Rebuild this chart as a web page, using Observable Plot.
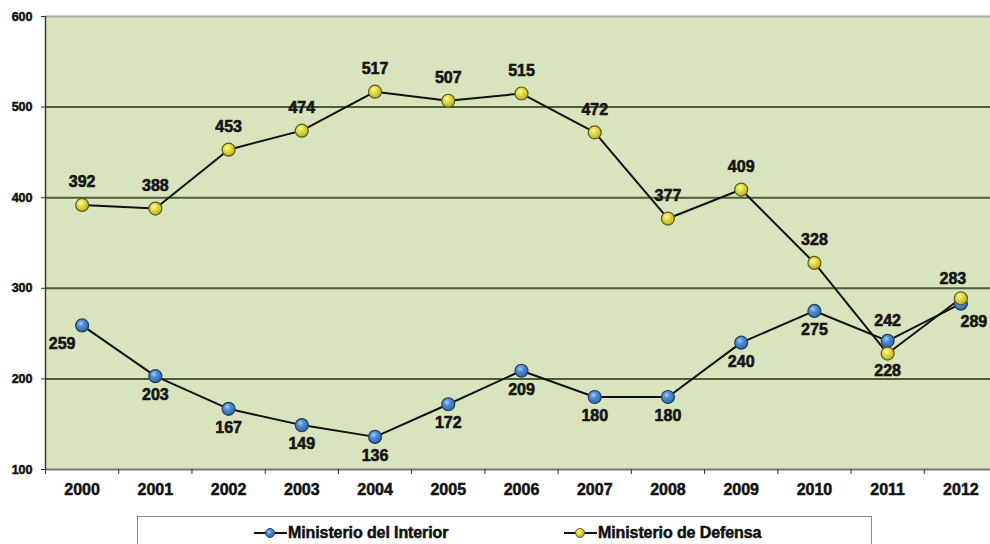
<!DOCTYPE html>
<html>
<head>
<meta charset="utf-8">
<script src="https://cdn.jsdelivr.net/npm/d3@7"></script>
<script src="https://cdn.jsdelivr.net/npm/@observablehq/plot@0.6"></script>
<style>
  html, body { margin: 0; padding: 0; background: #fff; }
  body { width: 990px; height: 544px; overflow: hidden; position: relative; font-family: "Liberation Sans", Arial, sans-serif; }
  #chart svg { display: block; }
  #legend { position: absolute; left: 137px; top: 516px; width: 735px; height: 40px; border: 1.5px solid #8a8a8a; box-sizing: border-box; background: #fff; }
  .item { position: absolute; top: 7px; display: flex; align-items: center; font-weight: bold; font-size: 16px; color: #111; letter-spacing: -0.1px; -webkit-text-stroke: 0.5px #111; }
  .item svg { display: block; margin-right: 1px; }
</style>
</head>
<body>
<div id="chart"></div>
<div id="legend"></div>
<script>
// ---- data ----
const years = [2000, 2001, 2002, 2003, 2004, 2005, 2006, 2007, 2008, 2009, 2010, 2011, 2012];
const interior = [259, 203, 167, 149, 136, 172, 209, 180, 180, 240, 275, 242, 283];
const defensa  = [392, 388, 453, 474, 517, 507, 515, 472, 377, 409, 328, 228, 289];
const interiorLabels = ["259", "203", "167", "149", "136", "172", "209", "180", "180", "240", "275", "242", "289"];
const defensaLabels  = ["392", "388", "453", "474", "517", "507", "515", "472", "377", "409", "328", "228", "283"];
const yTicks = [100, 200, 300, 400, 500, 600];
const gridValues = [200, 300, 400, 500];
const seriesNames = ["Ministerio del Interior", "Ministerio de Defensa"];

const boundaries = years.map(y => y - 0.5);
const rowsI = years.map((year, i) => ({year, value: interior[i], label: interiorLabels[i]}));
const rowsD = years.map((year, i) => ({year, value: defensa[i], label: defensaLabels[i]}));

const labelFont = {fontSize: 16, fontWeight: "bold", fill: "#151515", stroke: "#151515", strokeWidth: 0.6, fontFamily: "Liberation Sans, Arial, sans-serif"};

const chart = Plot.plot({
  width: 990,
  height: 505,
  marginLeft: 45,
  marginRight: 0,
  marginTop: 16,
  marginBottom: 36,
  style: {background: "transparent", fontFamily: "Liberation Sans, Arial, sans-serif"},
  x: {type: "linear", domain: [1999.5, 2012.5], range: [45, 997]},
  y: {domain: [100, 600], range: [469, 16]},
  marks: [
    Plot.frame({fill: "#d8e4bd", stroke: null}),
    Plot.ruleY(gridValues, {stroke: "#4d5c38", strokeWidth: 2}),
    Plot.ruleY([600], {stroke: "#a8a8a8", strokeWidth: 2}),
    Plot.ruleY([100], {stroke: "#7a7a7a", strokeWidth: 2}),
    Plot.ruleX([1999.5], {y1: 100, y2: 600, stroke: "#3a3a3a", strokeWidth: 1.5}),
    Plot.axisY({ticks: yTicks, tickSize: 4, tickPadding: 9, fontSize: 12.5, fontWeight: "bold", fill: "#111", stroke: "#333", label: null, tickFormat: d => String(d)}),
    Plot.axisX({ticks: boundaries, tickSize: 5, tickFormat: () => "", label: null, stroke: "#333"}),
    Plot.axisX({ticks: years, tickSize: 0, tickPadding: 14, tickFormat: d => String(d), fontSize: 16, fontWeight: "bold", fill: "#111", label: null}),
    Plot.line(rowsI, {x: "year", y: "value", stroke: "#111", strokeWidth: 2}),
    Plot.line(rowsD, {x: "year", y: "value", stroke: "#111", strokeWidth: 2}),
    Plot.dot(rowsI, {x: "year", y: "value", r: 6.5, fill: "url(#gBlue)", stroke: "#2b3f57", strokeWidth: 1.2}),
    Plot.dot(rowsD, {x: "year", y: "value", r: 6.5, fill: "url(#gYellow)", stroke: "#5e5a22", strokeWidth: 1.2}),
    // Defensa labels
    Plot.text(rowsD.filter(d => d.year <= 2010), {x: "year", y: "value", text: "label", dy: -23, ...labelFont}),
    Plot.text(rowsD.filter(d => d.year === 2011), {x: "year", y: "value", text: "label", dy: 17, ...labelFont}),
    Plot.text(rowsD.filter(d => d.year === 2012), {x: "year", y: "value", text: "label", dx: -8, dy: -19, ...labelFont}),
    // Interior labels
    Plot.text(rowsI.filter(d => d.year === 2000), {x: "year", y: "value", text: "label", dx: -20, dy: 18, ...labelFont}),
    Plot.text(rowsI.filter(d => d.year > 2000 && d.year <= 2010), {x: "year", y: "value", text: "label", dy: 19, ...labelFont}),
    Plot.text(rowsI.filter(d => d.year === 2011), {x: "year", y: "value", text: "label", dy: -20, ...labelFont}),
    Plot.text(rowsI.filter(d => d.year === 2012), {x: "year", y: "value", text: "label", dx: 13, dy: 18, ...labelFont})
  ]
});

// gradients for the glossy markers
const defsHTML = `
  <radialGradient id="gBlue" cx="0.4" cy="0.35" r="0.7">
    <stop offset="0" stop-color="#a9d0f5"/>
    <stop offset="0.35" stop-color="#4f8fd8"/>
    <stop offset="1" stop-color="#2c5f9e"/>
  </radialGradient>
  <radialGradient id="gYellow" cx="0.4" cy="0.35" r="0.7">
    <stop offset="0" stop-color="#fbf7b0"/>
    <stop offset="0.35" stop-color="#e6df45"/>
    <stop offset="1" stop-color="#b3aa20"/>
  </radialGradient>`;
const defs = document.createElementNS("http://www.w3.org/2000/svg", "defs");
defs.innerHTML = defsHTML;
chart.insertBefore(defs, chart.firstChild);
// thicken axis label text slightly to match the heavy original lettering
chart.querySelectorAll("g[aria-label='x-axis tick label'] text, g[aria-label='y-axis tick label'] text").forEach(t => {
  t.setAttribute("stroke", "#111");
  t.setAttribute("stroke-width", "0.5");
});
document.getElementById("chart").appendChild(chart);

// legend
const legend = document.getElementById("legend");
const legendItems = [
  {name: seriesNames[0], grad: "gBlueL", c0: "#a9d0f5", c1: "#4f8fd8", c2: "#2c5f9e", stroke: "#2b3f57", left: 253 - 137},
  {name: seriesNames[1], grad: "gYellowL", c0: "#fbf7b0", c1: "#e6df45", c2: "#b3aa20", stroke: "#5e5a22", left: 563 - 137}
];
legendItems.forEach(it => {
  const div = document.createElement("div");
  div.className = "item";
  div.style.left = it.left + "px";
  div.innerHTML = `<svg width="33" height="14" viewBox="0 0 33 14">
    <defs><radialGradient id="${it.grad}" cx="0.4" cy="0.35" r="0.7">
      <stop offset="0" stop-color="${it.c0}"/><stop offset="0.35" stop-color="${it.c1}"/><stop offset="1" stop-color="${it.c2}"/>
    </radialGradient></defs>
    <line x1="0" y1="7" x2="33" y2="7" stroke="#111" stroke-width="2"/>
    <circle cx="16" cy="7" r="4.5" fill="url(#${it.grad})" stroke="${it.stroke}" stroke-width="1"/>
  </svg><span>${it.name}</span>`;
  legend.appendChild(div);
});
</script>
</body>
</html>
